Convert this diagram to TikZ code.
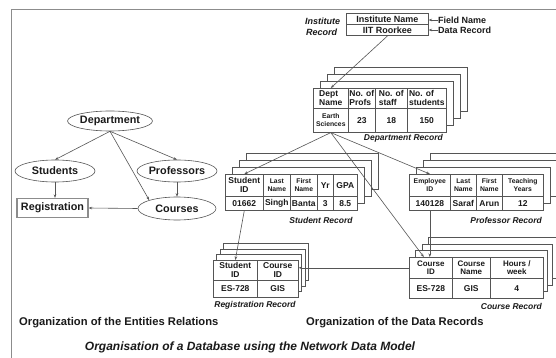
\documentclass[tikz,border=0pt]{standalone}
\usepackage{fontspec}
\setmainfont{Liberation Sans}
\usetikzlibrary{arrows.meta,shapes.geometric}
\definecolor{linec}{HTML}{555555}
\definecolor{txt}{HTML}{1A1A1A}
\definecolor{framec}{HTML}{8C8C8C}
\begin{document}
\begin{tikzpicture}[x=1pt,y=-1pt,
  line/.style={draw=linec, line width=0.6pt},
  arr/.style={line, -{Stealth[length=3.5pt,width=2.6pt]}},
  cell/.style={draw=linec, line width=0.6pt, fill=white, inner sep=0pt, align=center,
    anchor=north west, text=txt, font=\bfseries\fontsize{8.5}{9}\selectfont},
  tiny/.style={font=\bfseries\fontsize{6.8}{7.6}\selectfont},
  sheet/.style={draw=linec, line width=0.6pt, fill=white},
  caption/.style={font=\bfseries\itshape\fontsize{8.5}{9}\selectfont, text=txt, inner sep=0pt},
  ent/.style={ellipse, draw=linec, line width=0.6pt, fill=white, text=txt,
    font=\bfseries\fontsize{10.8}{12}\selectfont, inner sep=0pt},
  heading/.style={font=\bfseries\fontsize{11.2}{12}\selectfont, text=txt, inner sep=0pt, anchor=west},
]
\useasboundingbox (0,0) rectangle (556,358);
\fill[white] (0,0) rectangle (556,358);

% outer frame (top and left sides only)
\draw[framec, line width=0.8pt] (11,358) -- (11,9) -- (556,9);

% ---------------- entity relations ----------------
\node[ent, minimum width=82pt, minimum height=20pt] (dept) at (110,121) {Department};
\node[ent, minimum width=80pt, minimum height=22pt] (stud) at (55,171) {Students};
\node[ent, minimum width=80pt, minimum height=22pt] (prof) at (177,171) {Professors};
\node[draw=framec, line width=1.2pt, fill=white, text=txt, inner sep=0pt,
  minimum width=71pt, minimum height=19pt, font=\bfseries\fontsize{10.8}{12}\selectfont] (reg) at (52.5,208) {Registration};
\node[ent, minimum width=78pt, minimum height=23pt] (crs) at (177,208.5) {Courses};

\draw[arr] (dept.south) -- (stud.north);
\draw[arr] (dept.south) -- (prof.north);
\draw[arr] (dept.south) -- (crs.north west);
\draw[arr] (stud.south) -- (stud.south |- reg.north);
\draw[arr] (prof.south) -- (crs.north);
\draw[arr] (crs.west) -- (reg.east);

% ---------------- institute record ----------------
\node[cell, font=\bfseries\fontsize{9}{10}\selectfont, minimum width=82pt, minimum height=11pt] (iname) at (346,13.5) {Institute Name};
\node[cell, font=\bfseries\fontsize{9}{10}\selectfont, minimum width=82pt, minimum height=11pt] (iiit) at (346,24.5) {IIT Roorkee};
\node[caption, font=\bfseries\itshape\fontsize{9}{10}\selectfont, anchor=west] (ilab1) at (305,21) {Institute};
\node[caption, font=\bfseries\itshape\fontsize{9}{10}\selectfont, anchor=west] (ilab2) at (306,32) {Record};
\node[heading, font=\bfseries\fontsize{9}{10}\selectfont] (fname) at (438,20) {Field Name};
\node[heading, font=\bfseries\fontsize{9}{10}\selectfont] (drec) at (438,30) {Data Record};
\draw[arr] (fname.west) -- (fname.west -| iname.east);
\draw[arr] (drec.west) -- (drec.west -| iiit.east);

% ---------------- department record ----------------
\foreach \k in {3,2,1} \draw[sheet] (313+7*\k,88-7*\k) rectangle (446+7*\k,132-7*\k);
\node[cell, align=left, minimum width=35pt, minimum height=20pt] (dh1) at (313,88) {Dept\\Name};
\node[cell, align=left, minimum width=27pt, minimum height=20pt] (dh2) at (348,88) {No. of\\Profs};
\node[cell, align=left, minimum width=32pt, minimum height=20pt] (dh3) at (375,88) {No. of\\staff};
\node[cell, align=left, minimum width=39pt, minimum height=20pt] (dh4) at (407,88) {No. of\\students};
\node[cell, tiny, minimum width=35pt, minimum height=24pt] (dd1) at (313,108) {Earth\\Sciences};
\node[cell, minimum width=27pt, minimum height=24pt] (dd2) at (348,108) {23};
\node[cell, minimum width=32pt, minimum height=24pt] (dd3) at (375,108) {18};
\node[cell, minimum width=39pt, minimum height=24pt] (dd4) at (407,108) {150};
\node[caption, anchor=east] (dlab) at (443,138) {Department Record};

% ---------------- student record ----------------
\foreach \k in {3,2,1} \draw[sheet] (225+7*\k,174-7*\k) rectangle (357+7*\k,210-7*\k);
\node[cell, minimum width=38pt, minimum height=22pt] (sh1) at (225,174) {Student\\ID};
\node[cell, tiny, minimum width=27pt, minimum height=22pt] (sh2) at (263,174) {Last\\Name};
\node[cell, tiny, minimum width=27pt, minimum height=22pt] (sh3) at (290,174) {First\\Name};
\node[cell, minimum width=16pt, minimum height=22pt] (sh4) at (317,174) {Yr};
\node[cell, minimum width=24pt, minimum height=22pt] (sh5) at (333,174) {GPA};
\node[cell, minimum width=38pt, minimum height=14pt] (sd1) at (225,196) {01662};
\node[cell, minimum width=27pt, minimum height=14pt] (sd2) at (263,196) {Singh};
\node[cell, minimum width=27pt, minimum height=14pt] (sd3) at (290,196) {Banta};
\node[cell, minimum width=16pt, minimum height=14pt] (sd4) at (317,196) {3};
\node[cell, minimum width=24pt, minimum height=14pt] (sd5) at (333,196) {8.5};
\node[caption] (slab) at (321,220) {Student Record};

% ---------------- professor record ----------------
\foreach \k in {3,2,1} \draw[sheet] (409+7*\k,174-7*\k) rectangle (543+7*\k,210-7*\k);
\node[cell, tiny, minimum width=41pt, minimum height=22pt] (ph1) at (409,174) {Employee\\ID};
\node[cell, tiny, minimum width=26pt, minimum height=22pt] (ph2) at (450,174) {Last\\Name};
\node[cell, tiny, minimum width=26pt, minimum height=22pt] (ph3) at (476,174) {First\\Name};
\node[cell, tiny, minimum width=41pt, minimum height=22pt] (ph4) at (502,174) {Teaching\\Years};
\node[cell, minimum width=41pt, minimum height=14pt] (pd1) at (409,196) {140128};
\node[cell, minimum width=26pt, minimum height=14pt] (pd2) at (450,196) {Saraf};
\node[cell, minimum width=26pt, minimum height=14pt] (pd3) at (476,196) {Arun};
\node[cell, minimum width=41pt, minimum height=14pt] (pd4) at (502,196) {12};
\node[caption, anchor=east] (plab) at (542,220) {Professor Record};

% ---------------- registration record ----------------
\foreach \k in {3,2,1} \draw[sheet] (213+3.5*\k,260-5.5*\k) rectangle (298+3.5*\k,297-5.5*\k);
\node[cell, minimum width=44pt, minimum height=20pt] (rh1) at (213,260) {Student\\ID};
\node[cell, minimum width=41pt, minimum height=20pt] (rh2) at (257,260) {Course\\ID};
\node[cell, minimum width=44pt, minimum height=17pt] (rd1) at (213,280) {ES-728};
\node[cell, minimum width=41pt, minimum height=17pt] (rd2) at (257,280) {GIS};
\node[caption] (rlab) at (255,305) {Registration Record};

% ---------------- course record ----------------
\foreach \k in {3,2,1} \draw[sheet] (409+6.5*\k,257-6.5*\k) rectangle (543+4.5*\k,298-6.5*\k);
\node[cell, font=\bfseries\fontsize{8}{8.6}\selectfont, minimum width=43pt, minimum height=21pt] (ch1) at (409,257) {Course\\ID};
\node[cell, font=\bfseries\fontsize{8}{8.6}\selectfont, minimum width=38pt, minimum height=21pt] (ch2) at (452,257) {Course\\Name};
\node[cell, font=\bfseries\fontsize{8}{8.6}\selectfont, minimum width=53pt, minimum height=21pt] (ch3) at (490,257) {Hours /\\week};
\node[cell, minimum width=43pt, minimum height=20pt] (cd1) at (409,278) {ES-728};
\node[cell, minimum width=38pt, minimum height=20pt] (cd2) at (452,278) {GIS};
\node[cell, minimum width=53pt, minimum height=20pt] (cd3) at (490,278) {4};
\node[caption, anchor=east] (clab) at (542,306) {Course Record};

% ---------------- record links ----------------
\draw[arr] (iiit.south) -- (dh1.north);
\draw[arr] (dd1.south) -- (sh1.north);
\draw[arr] (dd1.south) -- (ph1.north);
\draw[arr] (dd1.south) -- ([xshift=-7pt]ch1.north);
\draw[arr] (pd1.south) -- (pd1.south |- ch1.north);
\draw[arr] (sd1.south) -- (rh1.north);
\draw[arr] (ch1.west) -- (ch1.west -| rh2.east);

% ---------------- headings ----------------
\node[heading] (h1) at (19,323) {Organization of the Entities Relations};
\node[heading] (h2) at (306,323) {Organization of the Data Records};
\node[font=\bfseries\itshape\fontsize{12}{14}\selectfont, text=txt, inner sep=0pt] (title) at (250,347) {Organisation of a Database using the Network Data Model};
\end{tikzpicture}
\end{document}
